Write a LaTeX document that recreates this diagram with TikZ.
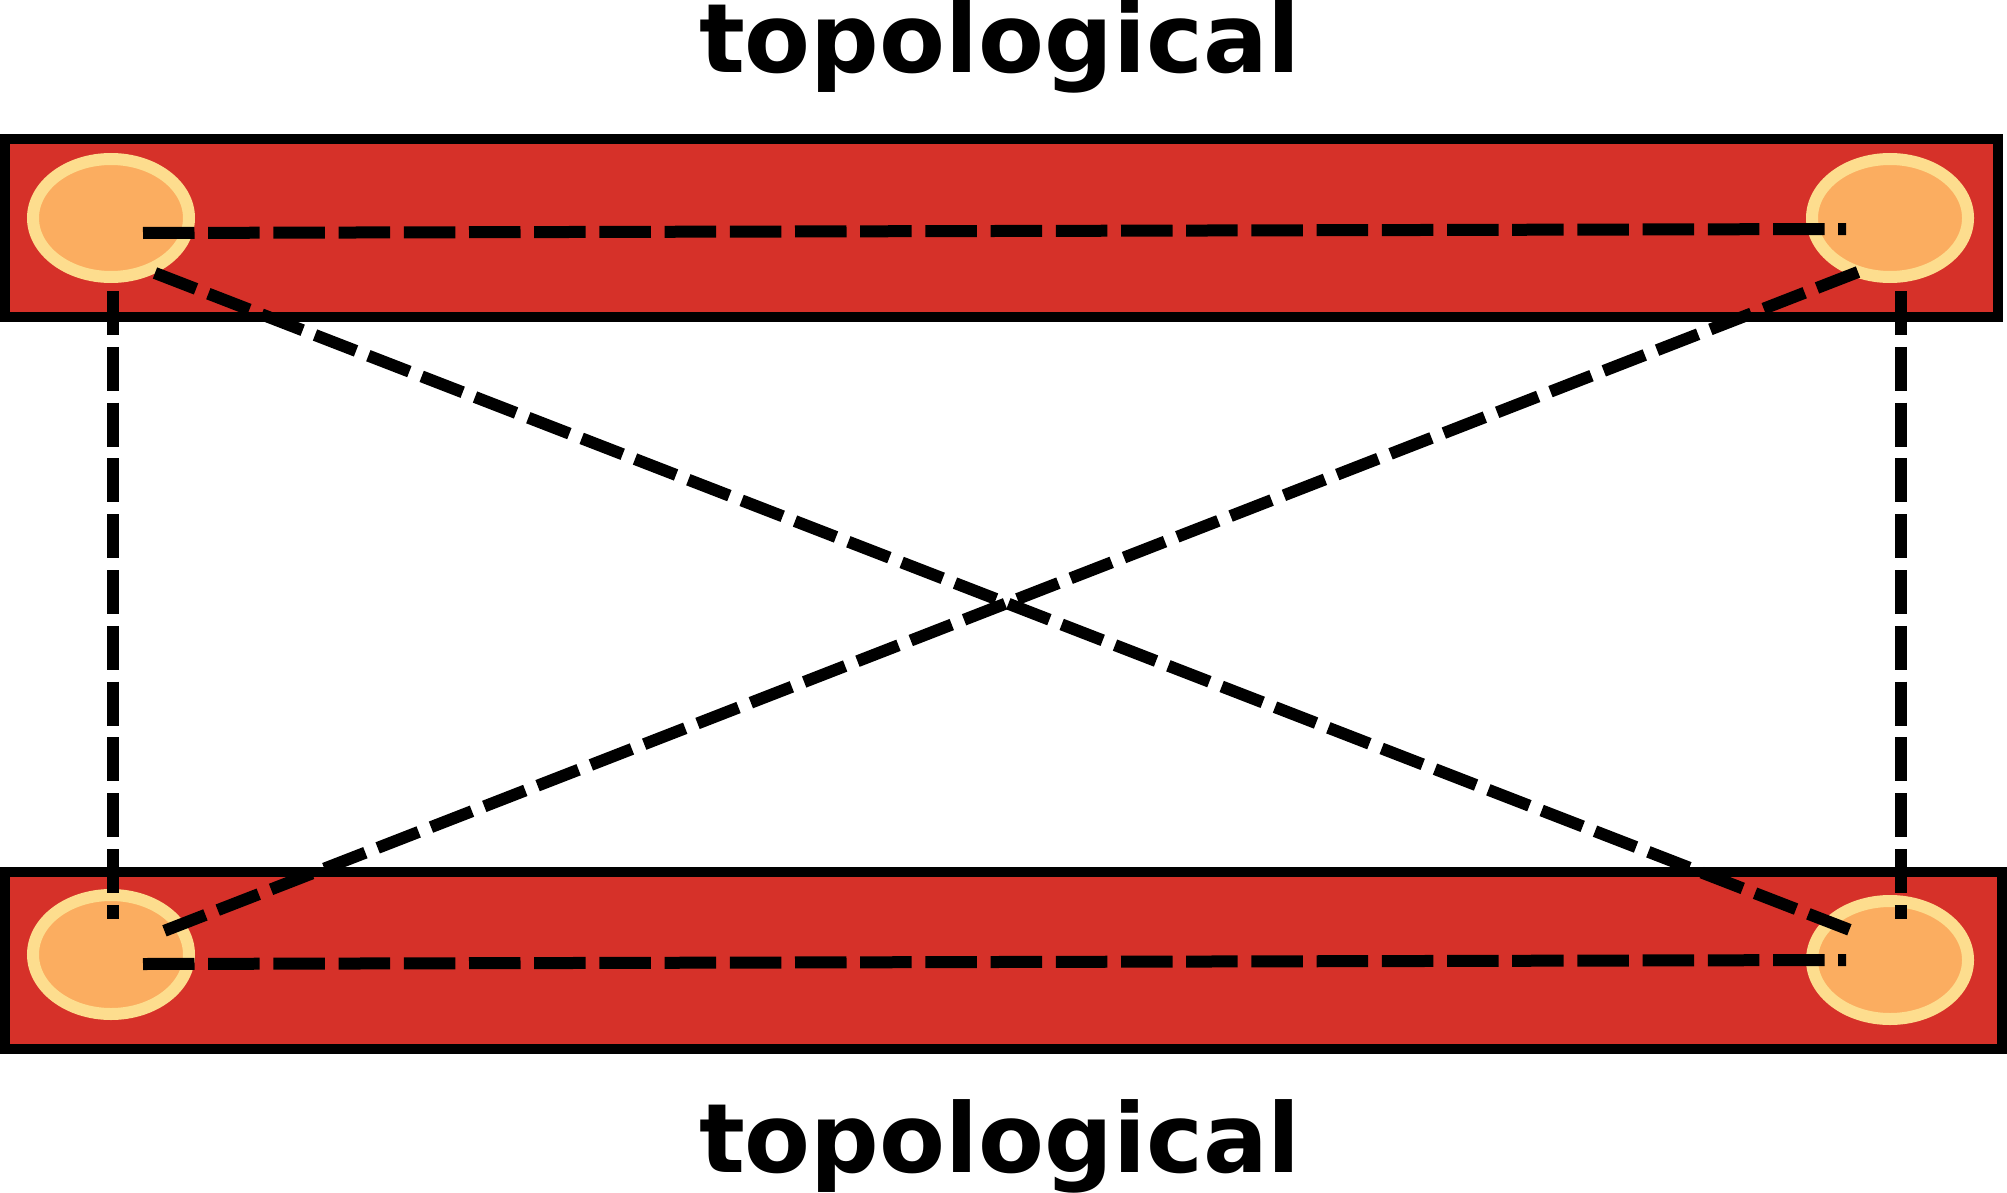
\documentclass[tikz,border=0pt]{standalone}
\usepackage{fontspec}
\newfontfamily\labfont{DejaVu Sans}
\usetikzlibrary{shapes.geometric}
\definecolor{barred}{RGB}{214,49,41}
\definecolor{nodefill}{RGB}{251,173,96}
\definecolor{noderim}{RGB}{253,221,142}
\begin{document}
\begin{tikzpicture}[x=1pt,y=-1pt,
  bar/.style={draw=black, line width=10pt, fill=barred, inner sep=0pt, outer sep=0pt},
  spot/.style={ellipse, draw=noderim, fill=nodefill, line width=12pt, inner sep=0pt,
               minimum width=156pt, minimum height=118pt},
  hlink/.style={draw=black, line width=12pt, dash pattern=on 51.5pt off 13.7pt},
  vlink/.style={draw=black, line width=12pt, dash pattern=on 44pt off 11.8pt},
  dlink/.style={draw=black, line width=12pt, dash pattern=on 44pt off 13.2pt},
  lab/.style={anchor=base west, inner sep=0pt, outer sep=0pt,
              font=\labfont\bfseries\fontsize{96}{100}\selectfont}
]
\useasboundingbox (0,0) rectangle (2007,1193);
% bars
\node[bar, minimum width=1993pt, minimum height=178pt] (topbar) at (1001.5,228) {};
\node[bar, minimum width=1996.5pt, minimum height=177pt] (botbar) at (1003.25,960.5) {};
% spots
\node[spot] (tl) at (111,218) {};
\node[spot] (tr) at (1890,218) {};
\node[spot, minimum height=119pt] (bl) at (111,954.5) {};
\node[spot] (br) at (1890,960) {};
% connector end points
\coordinate (tlH) at (143,233);
\coordinate (trH) at (1846,229);
\coordinate (blH) at (143,964);
\coordinate (brH) at (1846,960);
\coordinate (tlV) at (113,291);
\coordinate (blV) at (113,919);
\coordinate (trV) at (1901,291);
\coordinate (brV) at (1901,919);
\coordinate (tlD) at (155,273);
\coordinate (brD) at (1850,930);
\coordinate (trD) at (1858,272);
\coordinate (blD) at (164,931);
% connectors
\draw[hlink] (tlH) -- (trH);
\draw[hlink] (blH) -- (brH);
\draw[vlink] (tlV) -- (blV);
\draw[vlink] (trV) -- (brV);
\draw[dlink] (tlD) -- (brD);
\draw[dlink] (trD) -- (blD);
% labels
\node[lab] (toplab) at (699,73) {topological};
\node[lab] (botlab) at (699,1172) {topological};
\end{tikzpicture}
\end{document}
